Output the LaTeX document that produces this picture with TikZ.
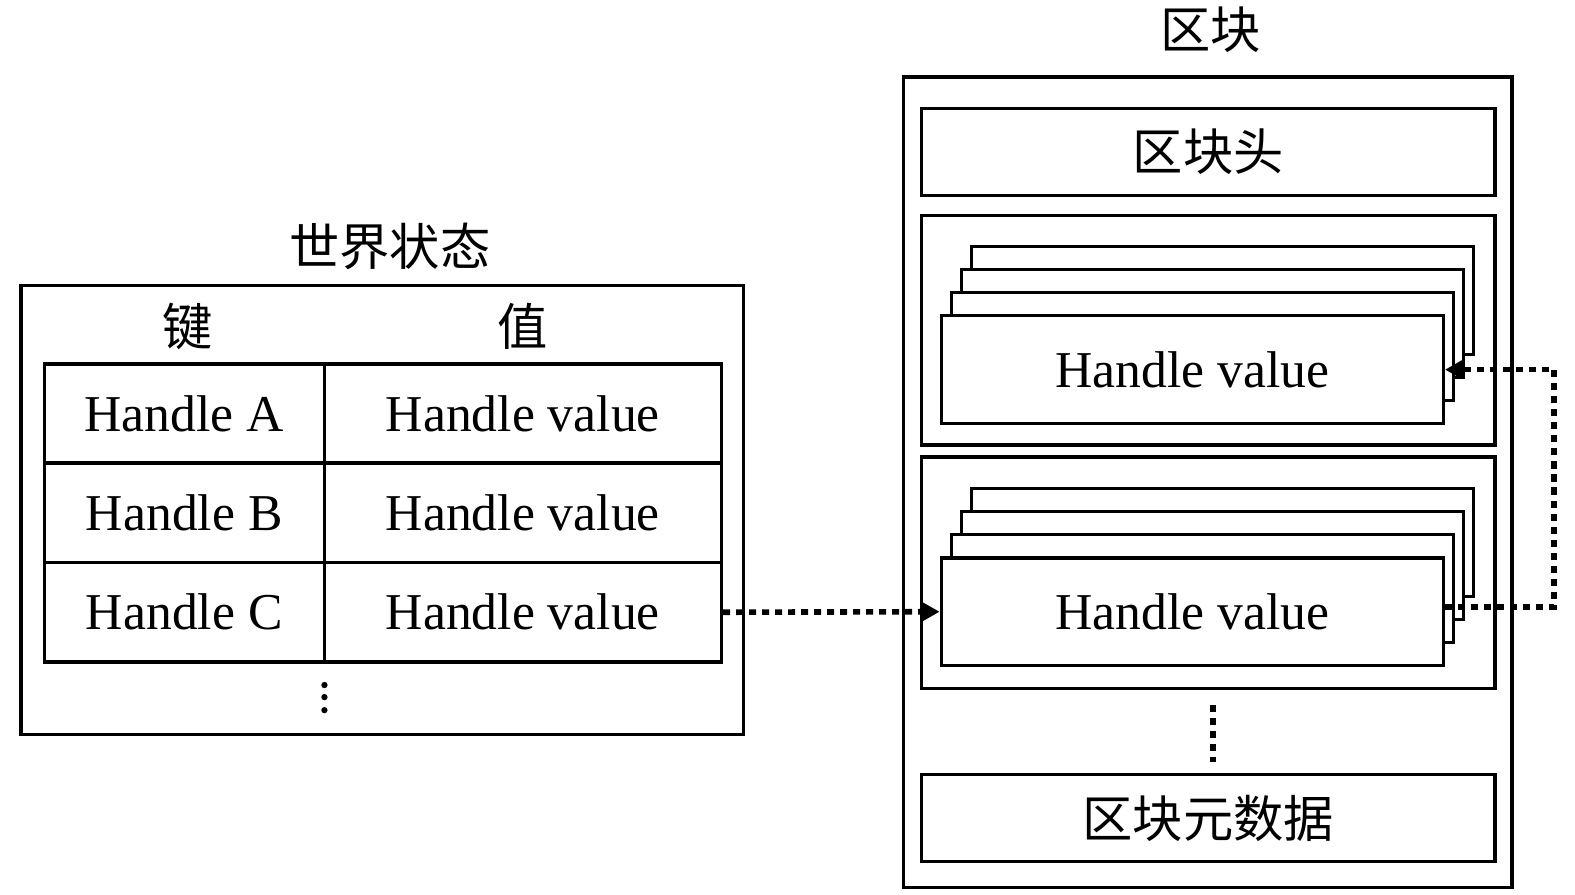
\documentclass[tikz,border=0pt]{standalone}
\usepackage{fontspec}
\setmainfont{Liberation Serif}
\newfontfamily\cjk{Noto Sans CJK SC}
\usepackage{tikz}
\usetikzlibrary{arrows.meta, positioning}

\newcommand{\cnfont}{\cjk\fontsize{14.3}{17}\selectfont}
\newcommand{\enfont}{\fontsize{14.7}{17}\selectfont}

\tikzset{
    frame/.style={draw, line width=0.9pt, inner sep=0pt, fill=white, font=\cnfont},
    cell/.style={frame, minimum height=0.995cm, font=\enfont},
    card/.style={frame, minimum width=5.02cm, minimum height=1.075cm, font=\enfont},
    heading/.style={inner sep=0pt, font=\cnfont},
    link/.style={line width=1.6pt, dash pattern=on 2pt off 1.7pt,
        -{Triangle[length=4.8pt, width=5pt]}},
    ellip/.style={line width=1.7pt, dash pattern=on 2pt off 1.7pt}
}

\begin{document}
\begin{tikzpicture}[x=0.010045cm, y=-0.010045cm]
        \useasboundingbox (0,0) rectangle (1568,891);

        % World state
        \node[frame, minimum width=7.22cm, minimum height=4.49cm] (state) at (380.5,507.5) {};
        \node[heading] (stateT) at (388,245) {世界状态};
        \node[heading] (keyT) at (187,325) {键};
        \node[heading] (valT) at (520,325) {值};

        % Table rows
        \foreach \r/\y in {A/412, B/510.5, C/609.5} {
            \node[cell, minimum width=2.80cm] (k\r) at (183.5,\y) {Handle \r};
            \node[cell, minimum width=3.97cm] (v\r) at (520.5,\y) {Handle value};
        }
        \foreach \y in {682,694,707}
            \fill (323,\y) circle (0.9pt);

        % Block
        \node[frame, minimum width=6.08cm, minimum height=8.10cm] (block) at (1202.5,480) {};
        \node[heading] (blockT) at (1205,30) {区块};
        \node[frame, minimum width=5.73cm, minimum height=0.874cm] (header) at (1203,151.5) {区块头};
        \node[frame, minimum width=5.73cm, minimum height=2.29cm] (sec1) at (1203,329) {};
        \node[frame, minimum width=5.73cm, minimum height=2.31cm] (sec2) at (1203,570) {};
        \node[frame, minimum width=5.73cm, minimum height=0.874cm] (meta) at (1203,814.5) {区块元数据};

        % Stacked values
        \foreach \s/\y in {1/368, 2/609} {
            \foreach \k in {3,2,1}
                \node[card] (s\s-\k) at ({1187+10*\k},{\y-23*\k}) {};
            \node[card] (s\s) at (1187,\y) {Handle value};
        }

        % Links
        \coordinate (turn) at (1547,0);
        \draw[link] (vC.east) -- (s2.west);
        \draw[link] ([yshift=1.4pt]s2.east) -- ([yshift=1.4pt]s2.east -| turn) |- (s1.east);
        \draw[ellip, shorten <=4.3pt, shorten >=3pt] ([xshift=1.4pt]sec2.south) -- ([xshift=1.4pt]meta.north);

    \end{tikzpicture}
\end{document}
